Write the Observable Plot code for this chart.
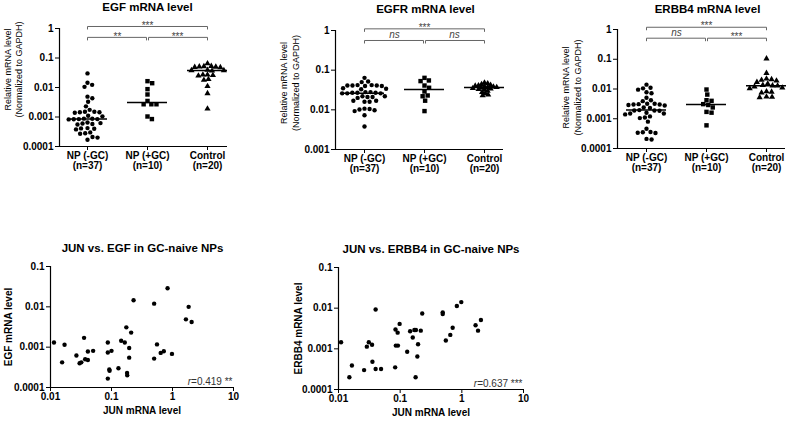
<!DOCTYPE html>
<html><head><meta charset="utf-8">
<script src="https://cdn.jsdelivr.net/npm/d3@7"></script>
<script src="https://cdn.jsdelivr.net/npm/@observablehq/plot@0.6"></script>
<style>
html,body{margin:0;padding:0;background:#fff;overflow:hidden}
#root{position:relative;width:800px;height:421px}
#root svg{position:absolute;left:0;top:0}
</style></head><body><div id="root"></div>
<script>
// ---------- data ----------
const groups = ["NP (-GC)", "NP (+GC)", "Control"];
const groupN = ["(n=37)", "(n=10)", "(n=20)"];
const pairs = [[0, 1], [1, 2], [0, 2]];

const egfNPminus = [0.030, 0.0145, 0.0123, 0.0105, 0.0049, 0.0043, 0.0033, 0.0023, 0.00175, 0.0015, 0.00145, 0.0014, 0.00145, 0.0015, 0.0011, 0.00105, 0.00088, 0.00085, 0.00083, 0.00085, 0.00087, 0.00084, 0.00065, 0.0006, 0.00058, 0.00062, 0.00056, 0.00042, 0.0004, 0.00038, 0.00041, 0.0003, 0.00028, 0.00027, 0.00021, 0.0002, 0.00017];
const egfNPplus = [0.0164, 0.014, 0.0088, 0.0058, 0.0035, 0.0027, 0.0027, 0.0027, 0.00104, 0.00085];
const egfControl = [0.065, 0.053, 0.052, 0.051, 0.05, 0.049, 0.048, 0.039, 0.038, 0.038, 0.037, 0.027, 0.026, 0.025, 0.027, 0.019, 0.018, 0.011, 0.0063, 0.0019];
const egfSig = ["**", "***", "***"];

const egfrNPminus = [0.064, 0.052, 0.05, 0.042, 0.041, 0.04, 0.041, 0.042, 0.04, 0.041, 0.035, 0.034, 0.033, 0.028, 0.027, 0.026, 0.027, 0.026, 0.027, 0.028, 0.026, 0.022, 0.021, 0.02, 0.021, 0.022, 0.017, 0.016, 0.017, 0.016, 0.0107, 0.0105, 0.0102, 0.0098, 0.0093, 0.0073, 0.0038];
const egfrNPplus = [0.064, 0.055, 0.053, 0.041, 0.036, 0.029, 0.023, 0.022, 0.017, 0.0093];
const egfrControl = [0.048, 0.046, 0.044, 0.042, 0.041, 0.04, 0.039, 0.038, 0.037, 0.037, 0.036, 0.035, 0.034, 0.033, 0.032, 0.03, 0.028, 0.026, 0.024, 0.023];
const egfrSig = ["ns", "ns", "***"];

const erbb4NPminus = [0.014, 0.011, 0.0105, 0.0095, 0.0078, 0.0072, 0.0051, 0.0042, 0.0039, 0.0032, 0.003, 0.0031, 0.0029, 0.003, 0.0032, 0.0028, 0.0024, 0.0023, 0.0019, 0.0019, 0.00195, 0.00185, 0.0015, 0.0016, 0.0015, 0.0014, 0.0011, 0.0012, 0.00105, 0.0008, 0.00046, 0.00036, 0.00034, 0.00035, 0.00033, 0.0002, 0.00021];
const erbb4NPplus = [0.0096, 0.0065, 0.0042, 0.004, 0.0031, 0.0029, 0.0024, 0.0017, 0.0016, 0.0006];
const erbb4Control = [0.105, 0.034, 0.022, 0.021, 0.02, 0.019, 0.017, 0.015, 0.0135, 0.013, 0.0128, 0.012, 0.011, 0.0105, 0.0082, 0.008, 0.0075, 0.0055, 0.0054, 0.0052];
const erbb4Sig = ["ns", "***", "***"];

const levelTicks4 = [0.0001, 0.001, 0.01, 0.1, 1];
const levelTicks3 = [0.001, 0.01, 0.1, 1];

const junEgfX = [0.0114, 0.0155, 0.017, 0.0266, 0.030, 0.032, 0.0355, 0.037, 0.041, 0.041, 0.050, 0.087, 0.087, 0.1, 0.087, 0.092, 0.093, 0.13, 0.144, 0.165, 0.175, 0.18, 0.181, 0.195, 0.195, 0.21, 0.23, 0.5, 0.5, 0.557, 0.83, 0.64, 0.72, 0.98, 1.66, 1.84, 2.06];
const junEgfY = [0.0013, 0.00042, 0.00115, 0.00062, 0.0004, 0.00042, 0.0017, 0.0005, 0.00048, 0.00078, 0.00081, 0.0013, 0.00074, 0.00081, 0.000166, 0.00028, 0.00026, 0.0003, 0.00144, 0.0013, 0.0031, 0.00023, 0.0002, 0.00095, 0.00055, 0.0023, 0.0145, 0.012, 0.00052, 0.00117, 0.029, 0.00072, 0.00079, 0.00068, 0.0049, 0.01, 0.0042];
const junErbb4X = [0.011, 0.015, 0.0165, 0.026, 0.0288, 0.031, 0.035, 0.0355, 0.04, 0.04, 0.049, 0.083, 0.084, 0.085, 0.091, 0.092, 0.098, 0.13, 0.145, 0.16, 0.17, 0.18, 0.178, 0.19, 0.195, 0.216, 0.228, 0.49, 0.49, 0.55, 0.65, 0.71, 0.83, 0.98, 1.67, 1.83, 2.04];
const junErbb4Y = [0.00145, 0.0002, 0.00039, 0.0003, 0.00113, 0.00145, 0.00126, 0.00048, 0.0093, 0.00032, 0.00032, 0.00035, 0.003, 0.0012, 0.0025, 0.0012, 0.0041, 0.00085, 0.0027, 0.0019, 0.0029, 0.0029, 0.0002, 0.00065, 0.0013, 0.0028, 0.0074, 0.0079, 0.0072, 0.0016, 0.0022, 0.0033, 0.0113, 0.0141, 0.0038, 0.0028, 0.0051];
const scatterXTicks = [0.01, 0.1, 1, 10];
const scatterYTicks = [0.0001, 0.001, 0.01, 0.1];

// ---------- layout helpers ----------
const W = 800, H = 421;
const FONT = "'Liberation Sans', Arial, sans-serif";
const baseStyle = {fontFamily: FONT, background: "transparent", overflow: "visible", color: "black"};
const root = document.getElementById("root");

function beeswarm(ys, D) {
  const idx = d3.range(ys.length).sort((a, b) => ys[a] - ys[b]);
  const placed = [], out = new Array(ys.length);
  for (const i of idx) {
    const y = ys[i], iv = [];
    for (const p of placed) {
      const dy = Math.abs(p.y - y);
      if (dy < D) { const w = Math.sqrt(D * D - dy * dy); iv.push([p.x - w, p.x + w]); }
    }
    const cands = [0];
    iv.forEach(([a, b]) => cands.push(a, b));
    cands.sort((a, b) => Math.abs(a) - Math.abs(b) || b - a);
    let x = 0;
    for (const c of cands) {
      if (iv.every(([a, b]) => c <= a + 1e-9 || c >= b - 1e-9)) { x = c; break; }
    }
    placed.push({x, y}); out[i] = x;
  }
  return out;
}

function textWidth(s, font) {
  const c = textWidth.c || (textWidth.c = document.createElement("canvas").getContext("2d"));
  c.font = font;
  return c.measureText(s).width;
}

const symbols = ["circle", "square", "triangle"];
const symR = [2.2, 2.5, 2.3];

function dotPanel(cfg) {
  const unit = 60;
  const xDom = [(cfg.left - cfg.cat0) / unit, (cfg.right - cfg.cat0) / unit];
  const ys = d3.scaleLog().domain(cfg.yDomain).range([cfg.bottom, cfg.top]);
  const decadePx = (cfg.bottom - cfg.top) / Math.log10(cfg.yDomain[1] / cfg.yDomain[0]);
  const drop = Math.pow(10, -3 / decadePx);
  const series = cfg.series.map((vals, g) => {
    const off = beeswarm(vals.map(v => ys(v)), cfg.spacing[g]);
    return vals.map((v, k) => ({g, v, x: g + off[k] / unit}));
  });
  const medians = cfg.series.map((vals, g) => ({g, m: d3.median(vals)}));
  const MH = 20 / unit, gap = 1 / unit;
  const brackets = pairs.map(([a, b], i) => ({
    a: a + (b - a === 1 && a === 1 ? gap : 0),
    b: b - (b - a === 1 && b === 1 ? gap : 0),
    mid: (a + b) / 2,
    level: b - a === 2 ? cfg.topLevel : cfg.lowLevel,
    label: cfg.sig[i]
  }));
  const segs = [];
  brackets.forEach(d => {
    segs.push({x1: d.a, y1: d.level, x2: d.b, y2: d.level});
    segs.push({x1: d.a, y1: d.level, x2: d.a, y2: d.level * drop});
    segs.push({x1: d.b, y1: d.level, x2: d.b, y2: d.level * drop});
  });
  return Plot.plot({
    width: W, height: H,
    marginLeft: cfg.left, marginRight: W - cfg.right, marginTop: cfg.top, marginBottom: H - cfg.bottom,
    x: {domain: xDom},
    y: {type: "log", domain: cfg.yDomain},
    style: baseStyle,
    marks: [
      Plot.ruleX([xDom[0]], {stroke: "black", strokeWidth: 1.2}),
      Plot.ruleY([cfg.yDomain[0]], {stroke: "black", strokeWidth: 1.2}),
      Plot.axisY({ticks: cfg.yTicks, tickFormat: d => String(d), tickSize: 4, tickPadding: 2, fontSize: 10, fontWeight: "bold", label: null}),
      Plot.axisX({ticks: [0, 1, 2], tickFormat: i => groups[i] + "\n" + groupN[i], tickSize: 4, tickPadding: 1, fontSize: 10, fontWeight: "bold", label: null}),
      ...series.map((s, g) => Plot.dot(s, {x: "x", y: "v", r: symR[g], symbol: symbols[g], fill: "black"})),
      Plot.ruleY(medians, {y: "m", x1: d => d.g - MH, x2: d => d.g + MH, stroke: "black", strokeWidth: 1.5}),
      Plot.link(segs, {x1: "x1", y1: "y1", x2: "x2", y2: "y2", stroke: "#666", strokeWidth: 1}),
      Plot.text(brackets.filter(d => d.label !== "ns"), {x: "mid", y: "level", text: "label", dy: -1, fontSize: 10, fill: "#444"}),
      Plot.text(brackets.filter(d => d.label === "ns"), {x: "mid", y: "level", text: "label", dy: -5.6, fontSize: 10, fontStyle: "italic", fill: "#444"}),
      Plot.text([cfg.title], {text: d => d, frameAnchor: "top", textAnchor: "middle", lineAnchor: "middle", dx: cfg.titleDx, dy: cfg.titleDy, fontSize: 11.5, fontWeight: "bold"}),
      Plot.text(["Relative mRNA level\n(Normalized to GAPDH)"], {text: d => d, frameAnchor: "left", textAnchor: "middle", lineAnchor: "middle", rotate: -90, dx: cfg.ylabDx, dy: cfg.ylabDy, fontSize: 9, lineHeight: 1.25})
    ]
  });
}

function scatterPanel(cfg) {
  const data = cfg.xs.map((x, i) => ({x, y: cfg.ys[i]}));
  const font = `10px ${FONT}`;
  const wRest = textWidth(cfg.rRest, font);
  return Plot.plot({
    width: W, height: H,
    marginLeft: cfg.left, marginRight: W - cfg.right, marginTop: cfg.top, marginBottom: H - cfg.bottom,
    x: {type: "log", domain: [scatterXTicks[0], scatterXTicks[scatterXTicks.length - 1]]},
    y: {type: "log", domain: [scatterYTicks[0], scatterYTicks[scatterYTicks.length - 1]]},
    style: baseStyle,
    marks: [
      Plot.ruleX([scatterXTicks[0]], {stroke: "black", strokeWidth: 1.2}),
      Plot.ruleY([scatterYTicks[0]], {stroke: "black", strokeWidth: 1.2}),
      Plot.axisX({ticks: scatterXTicks, tickFormat: d => String(d), tickSize: 4, tickPadding: 1, fontSize: 10, fontWeight: "bold", label: null}),
      Plot.axisY({ticks: scatterYTicks, tickFormat: d => String(d), tickSize: 4, tickPadding: 2, fontSize: 10, fontWeight: "bold", label: null}),
      Plot.dot(data, {x: "x", y: "y", r: 2.2, fill: "black"}),
      Plot.text([cfg.title], {text: d => d, frameAnchor: "top", textAnchor: "middle", lineAnchor: "middle", dx: cfg.titleDx, dy: cfg.titleDy, fontSize: 11.5, fontWeight: "bold"}),
      Plot.text(["JUN mRNA level"], {text: d => d, frameAnchor: "bottom", textAnchor: "middle", lineAnchor: "middle", dy: 23, fontSize: 10, fontWeight: "bold"}),
      Plot.text([cfg.ylabel], {text: d => d, frameAnchor: "left", textAnchor: "middle", lineAnchor: "middle", rotate: -90, dx: cfg.ylabDx, fontSize: 10, fontWeight: "bold"}),
      Plot.text([cfg.rRest], {text: d => d, frameAnchor: "bottom-right", textAnchor: "end", lineAnchor: "middle", dx: -1, dy: -6, fontSize: 10, fill: "#333"}),
      Plot.text(["r"], {text: d => d, frameAnchor: "bottom-right", textAnchor: "end", lineAnchor: "middle", dx: -1 - wRest, dy: -6, fontSize: 10, fontStyle: "italic", fill: "#333"})
    ]
  });
}

// ---------- panels ----------
root.append(dotPanel({
  title: "EGF mRNA level", series: [egfNPminus, egfNPplus, egfControl], sig: egfSig, spacing: [5.1, 5.1, 4.6],
  left: 59, right: 227, top: 28, bottom: 146, cat0: 87, yDomain: [0.0001, 1], yTicks: levelTicks4,
  topLevel: 1.17, lowLevel: 0.5, titleDx: 4, titleDy: -21, ylabDx: -46.5, ylabDy: -18
}));
root.append(dotPanel({
  title: "EGFR mRNA level", series: [egfrNPminus, egfrNPplus, egfrControl], sig: egfrSig, spacing: [5.1, 5.1, 3.3],
  left: 335, right: 503, top: 30, bottom: 149, cat0: 364, yDomain: [0.001, 1], yTicks: levelTicks3,
  topLevel: 1.1, lowLevel: 0.56, titleDx: 6, titleDy: -21, ylabDx: -46, ylabDy: -7
}));
root.append(dotPanel({
  title: "ERBB4 mRNA level", series: [erbb4NPminus, erbb4NPplus, erbb4Control], sig: erbb4Sig, spacing: [5.1, 5.1, 5.1],
  left: 617, right: 785, top: 29, bottom: 148, cat0: 646, yDomain: [0.0001, 1], yTicks: levelTicks4,
  topLevel: 1.19, lowLevel: 0.51, titleDx: 6, titleDy: -20, ylabDx: -46, ylabDy: -1.5
}));
root.append(scatterPanel({
  title: "JUN vs. EGF in GC-naive NPs", xs: junEgfX, ys: junEgfY, ylabel: "EGF mRNA level",
  left: 50, right: 233, top: 266, bottom: 387, titleDx: 0.5, titleDy: -18, ylabDx: -42, rRest: "=0.419 **"
}));
root.append(scatterPanel({
  title: "JUN vs. ERBB4 in GC-naive NPs", xs: junErbb4X, ys: junErbb4Y, ylabel: "ERBB4 mRNA level",
  left: 338, right: 523, top: 267, bottom: 389, titleDx: 0, titleDy: -18, ylabDx: -40, rRest: "=0.637 ***"
}));
</script></body></html>
